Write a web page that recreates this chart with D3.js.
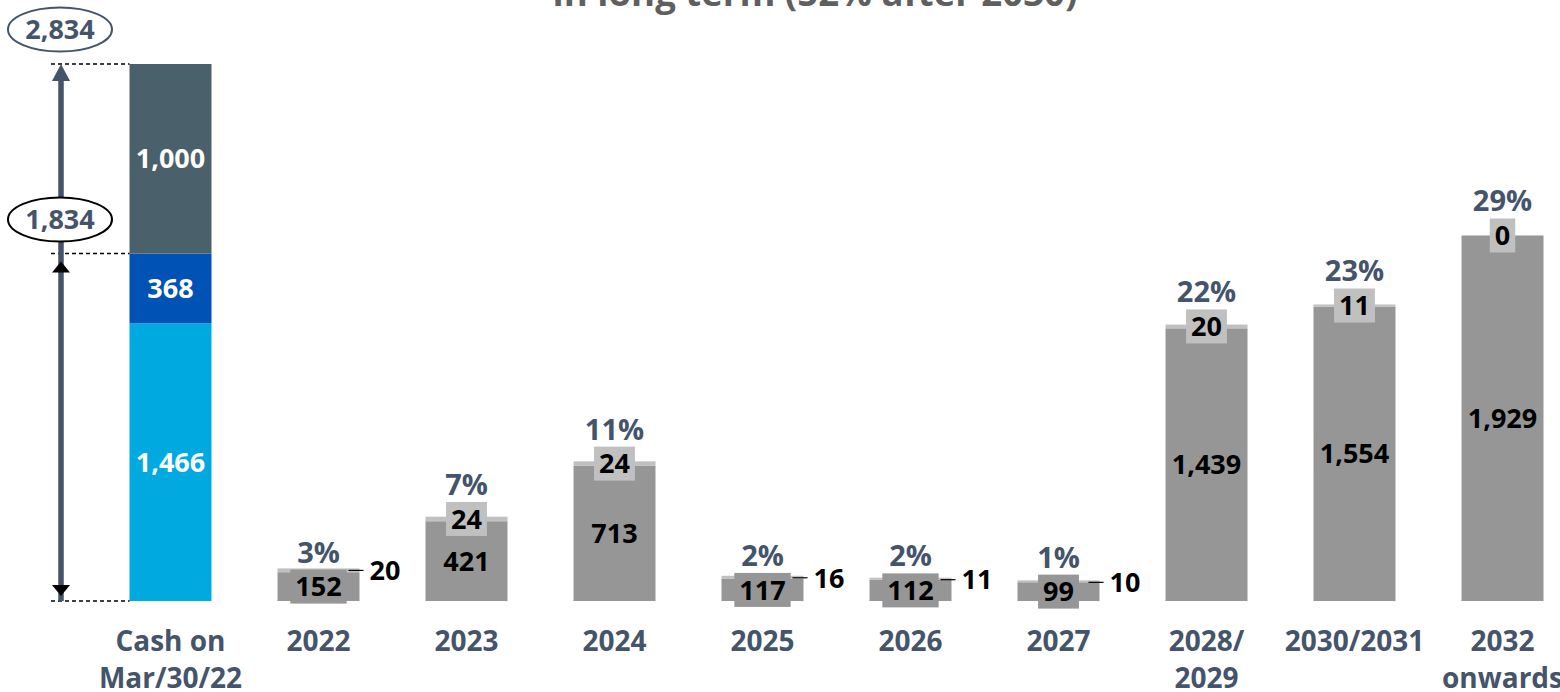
<!DOCTYPE html>
<html>
<head>
<meta charset="utf-8">
<script src="https://cdn.jsdelivr.net/npm/d3@7"></script>
<style>
  body { margin: 0; background: #ffffff; }
  svg { display: block; font-family: "Open Sans", Lato, sans-serif; }
</style>
</head>
<body>
<svg id="chart" width="1560" height="692"></svg>
<script>
// ---- data ----
const categories = ["Cash on Mar/30/22", "2022", "2023", "2024", "2025", "2026", "2027", "2028/2029", "2030/2031", "2032 onwards"];
const categoryLines = [["Cash on", "Mar/30/22"], ["2022"], ["2023"], ["2024"], ["2025"], ["2026"], ["2027"], ["2028/", "2029"], ["2030/2031"], ["2032", "onwards"]];

// cash position, bottom to top
const cashParts = [1466, 368, 1000];
const cashColors = ["#00a9e0", "#0052b5", "#4a606b"];
const bracketValues = [2834, 1834];

// debt maturities
const maturityYears = ["2022", "2023", "2024", "2025", "2026", "2027", "2028/2029", "2030/2031", "2032 onwards"];
const principal = [152, 421, 713, 117, 112, 99, 1439, 1554, 1929];
const otherAmount = [20, 24, 24, 16, 11, 10, 20, 11, 0];
const shareLabels = ["3%", "7%", "11%", "2%", "2%", "1%", "22%", "23%", "29%"];

const titleText = "in long term (52% after 2030)";

// ---- styling ----
const slate = "#44546a";
const barGrey = "#969696";
const lightGrey = "#c0c0c0";
const fs = 27;
const fmt = d3.format(",");

const svg = d3.select("#chart");

const x = d3.scaleBand()
  .domain(categories)
  .range([129.5, 1543.5])
  .paddingInner(0.446)
  .paddingOuter(0);

const y = d3.scaleLinear()
  .domain([0, d3.sum(cashParts)])
  .range([601, 64]);

// title (its upper part runs off the page edge)
const title = svg.append("text")
  .attr("x", 815).attr("y", 6)
  .attr("text-anchor", "middle")
  .attr("font-size", 34).attr("font-weight", 700)
  .attr("fill", "#5f5f5f")
  .text(titleText);
const tw = title.node().getComputedTextLength();
title.attr("font-size", 34 * 525 / tw);

// helper: text centred on (cx, cy) with an optional box behind it
function label(g, cx, cy, txt, color, boxFill, anchor) {
  const t = g.append("text")
    .attr("x", cx).attr("y", cy + fs * 0.36)
    .attr("text-anchor", anchor || "middle")
    .attr("font-size", fs).attr("font-weight", 700)
    .attr("fill", color)
    .text(txt);
  if (boxFill) {
    const w = t.node().getComputedTextLength() + 10;
    g.insert("rect", () => t.node())
      .attr("x", cx - w / 2).attr("y", cy - 17)
      .attr("width", w).attr("height", 34)
      .attr("fill", boxFill);
  }
  return t;
}

// ---- cash stacked bar ----
const cashStack = [];
let acc = 0;
cashParts.forEach((v, i) => { cashStack.push({ v, y0: acc, y1: acc + v, color: cashColors[i] }); acc += v; });

const cashKey = categories[0];
const cashG = svg.append("g");
cashG.selectAll("rect").data(cashStack).join("rect")
  .attr("x", x(cashKey)).attr("width", x.bandwidth())
  .attr("y", d => y(d.y1)).attr("height", d => y(d.y0) - y(d.y1))
  .attr("fill", d => d.color);
cashStack.forEach(d => label(cashG, x(cashKey) + x.bandwidth() / 2, (y(d.y0) + y(d.y1)) / 2, fmt(d.v), "#ffffff"));

// dashed guides and the bracket arrow
const arrowX = 61;
const guideLevels = [0, cashParts[0] + cashParts[1], d3.sum(cashParts)];
const bracket = svg.append("g");
bracket.selectAll("line.guide").data(guideLevels).join("line")
  .attr("class", "guide")
  .attr("x1", 51).attr("x2", x(cashKey))
  .attr("y1", d => y(d)).attr("y2", d => y(d))
  .attr("stroke", "#000").attr("stroke-width", 1.5)
  .attr("stroke-dasharray", "4,3");

bracket.append("line")
  .attr("x1", arrowX).attr("x2", arrowX)
  .attr("y1", y(d3.sum(cashParts)) + 10).attr("y2", y(0))
  .attr("stroke", slate).attr("stroke-width", 5.5);

const topTip = y(d3.sum(cashParts));
bracket.append("path")
  .attr("d", `M${arrowX},${topTip} L${arrowX - 9},${topTip + 17} L${arrowX + 9},${topTip + 17} Z`)
  .attr("fill", slate);
const midTip = y(cashParts[0] + cashParts[1]) + 8;
bracket.append("path")
  .attr("d", `M${arrowX},${midTip} L${arrowX - 9},${midTip + 11} L${arrowX + 9},${midTip + 11} Z`)
  .attr("fill", "#000");
const lowTip = y(0) - 5;
bracket.append("path")
  .attr("d", `M${arrowX},${lowTip} L${arrowX - 9},${lowTip - 11} L${arrowX + 9},${lowTip - 11} Z`)
  .attr("fill", "#000");

// bracket totals in ellipses
const ellipseYs = [29.5, 219.5];
const ellipseStroke = [slate, "#000"];
bracketValues.forEach((v, i) => {
  bracket.append("ellipse")
    .attr("cx", 60).attr("cy", ellipseYs[i])
    .attr("rx", 52).attr("ry", 22)
    .attr("fill", "#fff")
    .attr("stroke", ellipseStroke[i]).attr("stroke-width", 2);
  label(bracket, 60, ellipseYs[i], fmt(v), slate);
});

// ---- maturity bars ----
const maturities = maturityYears.map((k, i) => ({
  key: k, main: principal[i], other: otherAmount[i], share: shareLabels[i]
}));

const barsG = svg.append("g");
barsG.selectAll("rect.main").data(maturities).join("rect")
  .attr("class", "main")
  .attr("x", d => x(d.key)).attr("width", x.bandwidth())
  .attr("y", d => y(d.main)).attr("height", d => y(0) - y(d.main))
  .attr("fill", barGrey);
barsG.selectAll("rect.other").data(maturities).join("rect")
  .attr("class", "other")
  .attr("x", d => x(d.key)).attr("width", x.bandwidth())
  .attr("y", d => y(d.main + d.other)).attr("height", d => y(d.main) - y(d.main + d.other))
  .attr("fill", lightGrey);

const labelsG = svg.append("g");
maturities.forEach(d => {
  const cx = x(d.key) + x.bandwidth() / 2;
  const right = x(d.key) + x.bandwidth();
  const mainMid = (y(0) + y(d.main)) / 2;
  label(labelsG, cx, mainMid, fmt(d.main), "#000", barGrey);
  let boxTop;
  if (d.main < 200) {
    // short bars: amount sits beside the bar with a leader line
    const topY = y(d.main + d.other);
    const ly = topY + 2;
    labelsG.append("line")
      .attr("x1", right - 11).attr("x2", right + 4)
      .attr("y1", topY + 2).attr("y2", ly)
      .attr("stroke", "#000").attr("stroke-width", 1.2);
    label(labelsG, right + 10, ly, fmt(d.other), "#000", null, "start");
    boxTop = mainMid - 17;
  } else {
    const otherMid = (y(d.main) + y(d.main + d.other)) / 2;
    label(labelsG, cx, otherMid, fmt(d.other), "#000", lightGrey);
    boxTop = otherMid - 17;
  }
  labelsG.append("text")
    .attr("x", cx).attr("y", boxTop - 7)
    .attr("text-anchor", "middle")
    .attr("font-size", 29).attr("font-weight", 700)
    .attr("fill", slate)
    .text(d.share);
});

// ---- category axis ----
const axisG = svg.append("g");
categories.forEach((c, i) => {
  const t = axisG.append("text")
    .attr("x", x(c) + x.bandwidth() / 2)
    .attr("y", 651)
    .attr("text-anchor", "middle")
    .attr("font-size", 28).attr("font-weight", 700)
    .attr("fill", slate);
  categoryLines[i].forEach((line, j) => {
    t.append("tspan")
      .attr("x", x(c) + x.bandwidth() / 2)
      .attr("dy", j === 0 ? 0 : 37)
      .text(line);
  });
});
</script>
</body>
</html>
